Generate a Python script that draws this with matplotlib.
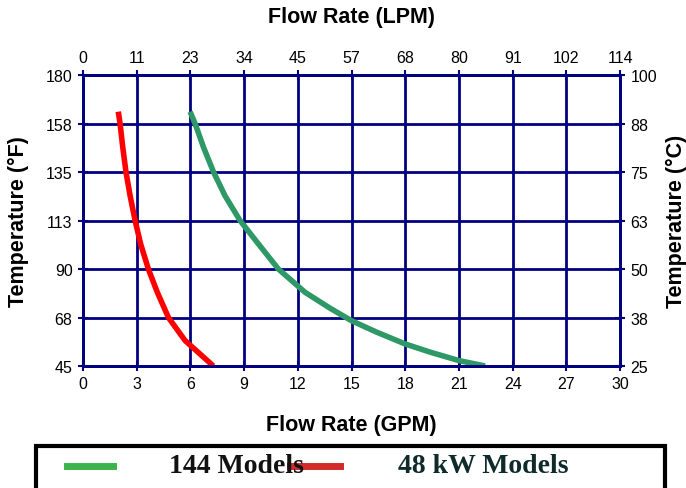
import matplotlib.pyplot as plt
from matplotlib.patches import Rectangle
from matplotlib.lines import Line2D

# values
gpm_144 = [5.98, 6.26, 6.73, 7.29, 7.93, 8.77, 9.8, 10.91, 12.4, 13.8, 15.0, 16.4, 18.0, 19.4, 21.0, 22.46]
temp_144 = [163.0, 157.5, 146.5, 135.0, 124.0, 112.5, 101.6, 90.0, 79.2, 71.8, 66.0, 60.7, 55.2, 51.4, 47.5, 45.0]
gpm_48 = [1.97, 2.07, 2.22, 2.40, 2.63, 2.91, 3.22, 3.65, 4.15, 4.77, 5.70, 7.28]
temp_48 = [163.0, 157.5, 146.5, 135.0, 124.0, 112.5, 101.6, 90.0, 79.2, 67.5, 56.8, 45.0]

gpm_ticks = [0, 3, 6, 9, 12, 15, 18, 21, 24, 27, 30]
lpm_labels = ["0", "11", "23", "34", "45", "57", "68", "80", "91", "102", "114"]
f_ticks = [45, 67.5, 90, 112.5, 135, 157.5, 180]
f_labels = ["45", "68", "90", "113", "135", "158", "180"]
c_ticks = [25, 37.5, 50, 62.5, 75, 87.5, 100]
c_labels = ["25", "38", "50", "63", "75", "88", "100"]

navy = "#000080"
green = "#2e9966"
red = "#ff0000"

plt.rcParams['font.family'] = ['Liberation Sans', 'DejaVu Sans']

fig = plt.figure(figsize=(6.86, 4.89), dpi=100)
ax = fig.add_axes([0.121, 0.2495, 0.783, 0.595])

ax.plot(gpm_144, temp_144, color=green, lw=4, solid_capstyle='butt', zorder=3)
ax.plot(gpm_48, temp_48, color=red, lw=4, solid_capstyle='butt', zorder=3)

ax.set_xlim(0, 30)
ax.set_ylim(45, 180)
ax.set_xticks(gpm_ticks)
ax.set_yticks(f_ticks)
ax.set_yticklabels(f_labels)
ax.grid(True, color=navy, lw=2)
ax.set_axisbelow(True)
for s in ax.spines.values():
    s.set_color(navy)
    s.set_linewidth(2)
tick_kw = dict(direction='inout', length=7, width=1.5, color=navy, labelsize=11.5, pad=4)
ax.tick_params(**tick_kw)
ax.set_xlabel("Flow Rate (GPM)", fontsize=15.5, fontweight='bold', labelpad=16)
ax.set_ylabel("Temperature (°F)", fontsize=15.5, fontweight='bold', labelpad=12)

# top axis (LPM)
top = ax.twiny()
top.set_xlim(0, 30)
top.set_xticks(gpm_ticks)
top.set_xticklabels(lpm_labels)
top.tick_params(**tick_kw)
top.set_xlabel("Flow Rate (LPM)", fontsize=15.5, fontweight='bold', labelpad=20)

# right axis (C)
right = ax.twinx()
right.set_ylim(25, 100)
right.set_yticks(c_ticks)
right.set_yticklabels(c_labels)
right.tick_params(**tick_kw)
right.set_ylabel("Temperature (°C)", fontsize=15.5, fontweight='bold', labelpad=6)
for a in (top, right):
    for s in a.spines.values():
        s.set_color(navy)
        s.set_linewidth(2)

# legend box at the bottom
fig.patches.append(Rectangle((36 / 686, -0.05), 629 / 686, 0.05 + 42 / 489,
                             transform=fig.transFigure, fill=False,
                             edgecolor='black', lw=3))
ly = 1 - 467 / 489
fig.lines.append(Line2D([67 / 686, 113 / 686], [ly, ly], transform=fig.transFigure,
                        color="#3cb44b", lw=5))
fig.text(236 / 686, ly, "144 Models", family=['Liberation Serif'], fontweight='bold',
         fontsize=20, ha='center', va='center', color='#111111')
fig.lines.append(Line2D([290 / 686, 340 / 686], [ly, ly], transform=fig.transFigure,
                        color="#d42a2a", lw=5))
fig.text(483 / 686, ly, "48 kW Models", family=['Liberation Serif'], fontweight='bold',
         fontsize=20, ha='center', va='center', color='#0f2a2a')

plt.savefig("out.png", dpi=100)
